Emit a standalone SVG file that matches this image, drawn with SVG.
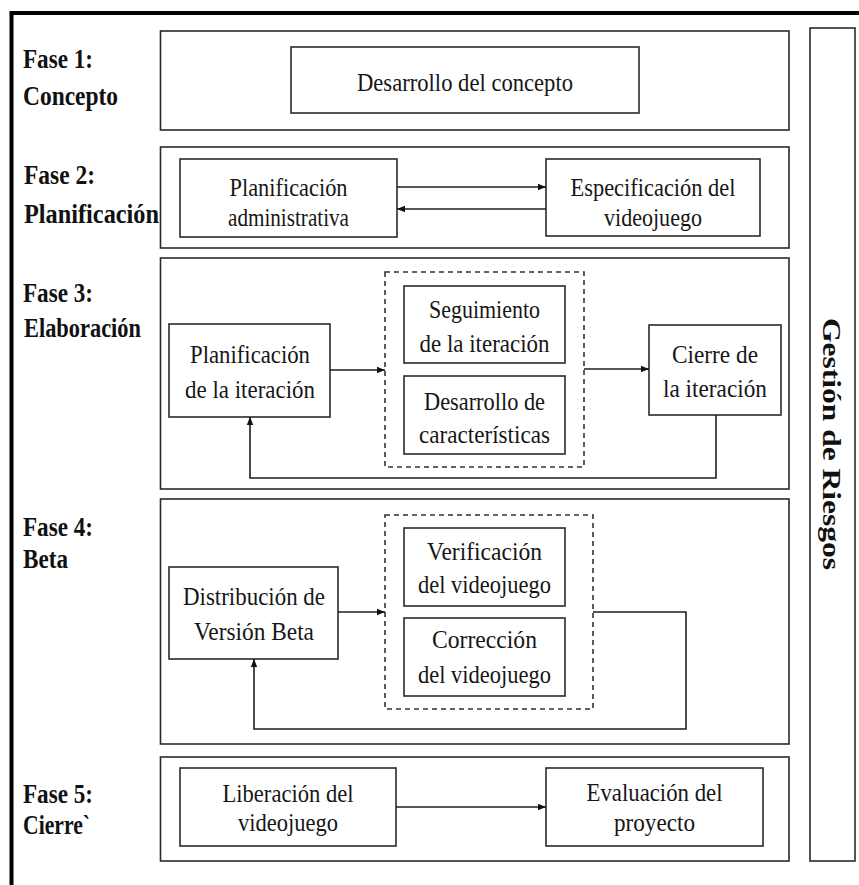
<svg xmlns="http://www.w3.org/2000/svg" width="859" height="885" viewBox="0 0 859 885">
  <style>
    .frame { fill: none; stroke: #000; stroke-width: 4; }
    .box { fill: #fff; stroke: #2a2a2a; stroke-width: 1.6; }
    .group { fill: none; stroke: #333; stroke-width: 1.6; stroke-dasharray: 5 4; }
    .conn { fill: none; stroke: #1e1e1e; stroke-width: 1.6; }
    .phase { font-family: "Liberation Serif", "Times New Roman", serif; font-weight: bold; font-size: 28px; fill: #111; }
    .label { font-family: "Liberation Serif", "Times New Roman", serif; font-size: 25px; fill: #161616; text-anchor: middle; }
    .side { font-family: "Liberation Serif", "Times New Roman", serif; font-weight: bold; font-size: 26px; fill: #111; text-anchor: middle; }
  </style>
  <defs>
    <marker id="arrow" viewBox="0 0 10 10" refX="10" refY="5" markerWidth="8" markerHeight="8" markerUnits="userSpaceOnUse" orient="auto">
      <path d="M0,1 L10,5 L0,9 z" fill="#111"/>
    </marker>
  </defs>

  <rect width="859" height="885" fill="#fff"/>

  <!-- outer frame: top and left edges -->
  <path class="frame" d="M11.5,885 V13 H859"/>

  <!-- phase containers -->
  <g id="phase-containers">
    <rect class="box" x="160.5" y="31" width="628.5" height="99"/>
    <rect class="box" x="160.5" y="147" width="628.5" height="101"/>
    <rect class="box" x="160.5" y="258" width="628.5" height="231"/>
    <rect class="box" x="160.5" y="499" width="628.5" height="245"/>
    <rect class="box" x="160.5" y="757" width="628.5" height="104"/>
  </g>

  <!-- phase labels -->
  <g id="phase-labels">
    <text class="phase" x="23" y="68" textLength="70" lengthAdjust="spacingAndGlyphs">Fase 1:</text>
    <text class="phase" x="23" y="105" textLength="95" lengthAdjust="spacingAndGlyphs">Concepto</text>
    <text class="phase" x="24" y="184" textLength="71" lengthAdjust="spacingAndGlyphs">Fase 2:</text>
    <text class="phase" x="24" y="223" textLength="135" lengthAdjust="spacingAndGlyphs">Planificación</text>
    <text class="phase" x="23" y="302" textLength="70" lengthAdjust="spacingAndGlyphs">Fase 3:</text>
    <text class="phase" x="24" y="337" textLength="117" lengthAdjust="spacingAndGlyphs">Elaboración</text>
    <text class="phase" x="23" y="536" textLength="70" lengthAdjust="spacingAndGlyphs">Fase 4:</text>
    <text class="phase" x="23" y="568" textLength="45" lengthAdjust="spacingAndGlyphs">Beta</text>
    <text class="phase" x="23" y="803" textLength="70" lengthAdjust="spacingAndGlyphs">Fase 5:</text>
    <text class="phase" x="23" y="834" textLength="67" lengthAdjust="spacingAndGlyphs">Cierre`</text>
  </g>

  <!-- risk management column -->
  <g id="gestion-riesgos">
    <rect class="box" x="810" y="28" width="45" height="833"/>
    <text class="side" transform="translate(823,444) rotate(90)" x="0" y="0" textLength="252" lengthAdjust="spacingAndGlyphs">Gestión de Riesgos</text>
  </g>

  <!-- dashed iteration groups -->
  <g id="iteration-groups">
    <rect class="group" x="385" y="272" width="199" height="195"/>
    <rect class="group" x="385" y="515" width="208" height="194"/>
  </g>

  <!-- Fase 1 -->
  <g id="desarrollo-concepto">
    <rect class="box" x="291" y="47" width="348" height="66"/>
    <text class="label" x="465" y="91" textLength="216" lengthAdjust="spacingAndGlyphs">Desarrollo del concepto</text>
  </g>

  <!-- Fase 2 -->
  <g id="planificacion-administrativa">
    <rect class="box" x="180" y="159" width="217" height="78"/>
    <text class="label" x="288.5" y="196" textLength="118" lengthAdjust="spacingAndGlyphs">Planificación</text>
    <text class="label" x="288.5" y="226" textLength="121" lengthAdjust="spacingAndGlyphs">administrativa</text>
  </g>
  <g id="especificacion-videojuego">
    <rect class="box" x="546" y="159" width="214" height="77"/>
    <text class="label" x="653" y="196" textLength="165" lengthAdjust="spacingAndGlyphs">Especificación del</text>
    <text class="label" x="653" y="226" textLength="98" lengthAdjust="spacingAndGlyphs">videojuego</text>
  </g>

  <!-- Fase 3 -->
  <g id="planificacion-iteracion">
    <rect class="box" x="169" y="324" width="161" height="93"/>
    <text class="label" x="250" y="363" textLength="120" lengthAdjust="spacingAndGlyphs">Planificación</text>
    <text class="label" x="250" y="398" textLength="130" lengthAdjust="spacingAndGlyphs">de la iteración</text>
  </g>
  <g id="seguimiento-iteracion">
    <rect class="box" x="404" y="286" width="161" height="77"/>
    <text class="label" x="484.5" y="318" textLength="111" lengthAdjust="spacingAndGlyphs">Seguimiento</text>
    <text class="label" x="484.5" y="352" textLength="130" lengthAdjust="spacingAndGlyphs">de la iteración</text>
  </g>
  <g id="desarrollo-caracteristicas">
    <rect class="box" x="404" y="376" width="161" height="78"/>
    <text class="label" x="484.5" y="410" textLength="121" lengthAdjust="spacingAndGlyphs">Desarrollo de</text>
    <text class="label" x="484.5" y="443" textLength="131" lengthAdjust="spacingAndGlyphs">características</text>
  </g>
  <g id="cierre-iteracion">
    <rect class="box" x="649" y="325" width="132" height="90"/>
    <text class="label" x="715" y="363" textLength="86" lengthAdjust="spacingAndGlyphs">Cierre de</text>
    <text class="label" x="715" y="397" textLength="104" lengthAdjust="spacingAndGlyphs">la iteración</text>
  </g>

  <!-- Fase 4 -->
  <g id="distribucion-beta">
    <rect class="box" x="169" y="567" width="169" height="92"/>
    <text class="label" x="254" y="605" textLength="142" lengthAdjust="spacingAndGlyphs">Distribución de</text>
    <text class="label" x="254" y="640" textLength="120" lengthAdjust="spacingAndGlyphs">Versión Beta</text>
  </g>
  <g id="verificacion-videojuego">
    <rect class="box" x="404" y="528" width="161" height="78"/>
    <text class="label" x="484.5" y="560" textLength="115" lengthAdjust="spacingAndGlyphs">Verificación</text>
    <text class="label" x="484.5" y="593" textLength="133" lengthAdjust="spacingAndGlyphs">del videojuego</text>
  </g>
  <g id="correccion-videojuego">
    <rect class="box" x="404" y="618" width="161" height="78"/>
    <text class="label" x="484.5" y="648" textLength="105" lengthAdjust="spacingAndGlyphs">Corrección</text>
    <text class="label" x="484.5" y="683" textLength="133" lengthAdjust="spacingAndGlyphs">del videojuego</text>
  </g>

  <!-- Fase 5 -->
  <g id="liberacion-videojuego">
    <rect class="box" x="180" y="768" width="216" height="78"/>
    <text class="label" x="288" y="802" textLength="131" lengthAdjust="spacingAndGlyphs">Liberación del</text>
    <text class="label" x="288" y="831" textLength="100" lengthAdjust="spacingAndGlyphs">videojuego</text>
  </g>
  <g id="evaluacion-proyecto">
    <rect class="box" x="546" y="768" width="217" height="78"/>
    <text class="label" x="654.5" y="801" textLength="136" lengthAdjust="spacingAndGlyphs">Evaluación del</text>
    <text class="label" x="654.5" y="831" textLength="81" lengthAdjust="spacingAndGlyphs">proyecto</text>
  </g>

  <!-- connectors -->
  <g id="connectors">
    <path class="conn" d="M397,187 H546" marker-end="url(#arrow)"/>
    <path class="conn" d="M546,209 H397" marker-end="url(#arrow)"/>
    <path class="conn" d="M330,370 H385" marker-end="url(#arrow)"/>
    <path class="conn" d="M584,369 H649" marker-end="url(#arrow)"/>
    <path class="conn" d="M716,415 V478 H250 V417" marker-end="url(#arrow)"/>
    <path class="conn" d="M338,612 H385" marker-end="url(#arrow)"/>
    <path class="conn" d="M593,612 H686 V729 H254 V659" marker-end="url(#arrow)"/>
    <path class="conn" d="M396,807 H546" marker-end="url(#arrow)"/>
  </g>
</svg>
